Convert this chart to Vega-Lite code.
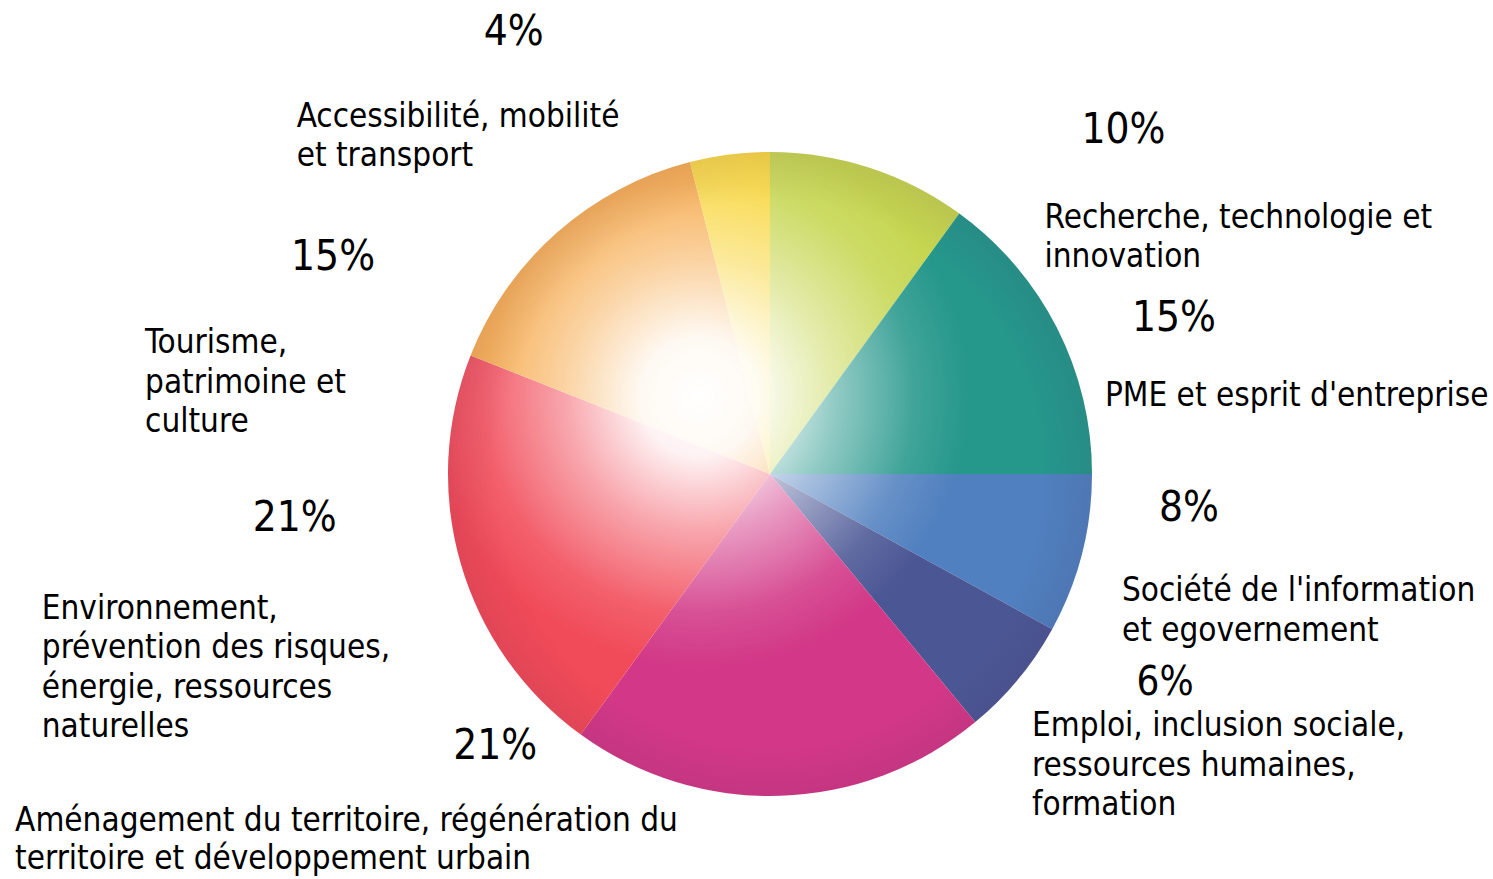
{
  "$schema": "https://vega.github.io/schema/vega-lite/v6.json",
  "width": 1446,
  "height": 810,
  "autosize": {"type": "none"},
  "padding": {"left": 47, "top": 69, "right": 0, "bottom": 0},
  "background": "white",
  "config": {"view": {"stroke": null}},
  "data": {
    "values": [
      {"cat": "Recherche, technologie et innovation", "label": "Recherche, technologie et\ninnovation", "pct": "10%", "value": 10, "order": 1},
      {"cat": "PME et esprit d'entreprise", "label": "PME et esprit d'entreprise", "pct": "15%", "value": 15, "order": 2},
      {"cat": "Société de l'information et egovernement", "label": "Société de l'information\net egovernement", "pct": "8%", "value": 8, "order": 3},
      {"cat": "Emploi, inclusion sociale, ressources humaines, formation", "label": "Emploi, inclusion sociale,\nressources humaines,\nformation", "pct": "6%", "value": 6, "order": 4},
      {"cat": "Aménagement du territoire, régénération du territoire et développement urbain", "label": "Aménagement du territoire, régénération du\nterritoire et développement urbain", "pct": "21%", "value": 21, "order": 5},
      {"cat": "Environnement, prévention des risques, énergie, ressources naturelles", "label": "Environnement,\nprévention des risques,\nénergie, ressources\nnaturelles", "pct": "21%", "value": 21, "order": 6},
      {"cat": "Tourisme, patrimoine et culture", "label": "Tourisme,\npatrimoine et\nculture", "pct": "15%", "value": 15, "order": 7},
      {"cat": "Accessibilité, mobilité et transport", "label": "Accessibilité, mobilité\net transport", "pct": "4%", "value": 4, "order": 8}
    ]
  },
  "layer": [
    {
      "mark": {"type": "arc", "outerRadius": 322, "strokeWidth": 0},
      "encoding": {
        "theta": {"field": "value", "type": "quantitative", "stack": true, "scale": {"domain": [0, 100]}},
        "order": {"field": "order", "type": "quantitative"},
        "color": {
          "field": "cat", "type": "nominal", "legend": null,
          "scale": {
            "domain": ["Recherche, technologie et innovation", "PME et esprit d'entreprise", "Société de l'information et egovernement", "Emploi, inclusion sociale, ressources humaines, formation", "Aménagement du territoire, régénération du territoire et développement urbain", "Environnement, prévention des risques, énergie, ressources naturelles", "Tourisme, patrimoine et culture", "Accessibilité, mobilité et transport"],
            "range": ["#c6d650", "#25978b", "#5080bf", "#4b5795", "#d23887", "#f14a58", "#f6a746", "#f8d63e"]
          }
        }
      }
    },
    {
      "transform": [{"aggregate": [{"op": "sum", "field": "value", "as": "total"}]}],
      "mark": {
        "type": "arc", "outerRadius": 322, "strokeWidth": 0,
        "fill": {
          "gradient": "radial", "x1": 0.39, "y1": 0.38, "r1": 0, "x2": 0.39, "y2": 0.38, "r2": 0.42,
          "stops": [
            {"offset": 0, "color": "rgba(255,255,255,1)"},
            {"offset": 0.22, "color": "rgba(255,255,255,0.93)"},
            {"offset": 0.5, "color": "rgba(255,255,255,0.5)"},
            {"offset": 0.8, "color": "rgba(255,255,255,0.12)"},
            {"offset": 1, "color": "rgba(255,255,255,0)"}
          ]
        }
      },
      "encoding": {"theta": {"field": "total", "type": "quantitative"}}
    },
    {
      "transform": [{"aggregate": [{"op": "sum", "field": "value", "as": "total"}]}],
      "mark": {
        "type": "arc", "outerRadius": 322, "strokeWidth": 0,
        "fill": {
          "gradient": "radial", "x1": 0.5, "y1": 0.5, "r1": 0, "x2": 0.5, "y2": 0.5, "r2": 0.5,
          "stops": [
            {"offset": 0, "color": "rgba(60,30,70,0)"},
            {"offset": 0.85, "color": "rgba(60,30,70,0)"},
            {"offset": 1, "color": "rgba(60,30,70,0.09)"}
          ]
        }
      },
      "encoding": {"theta": {"field": "total", "type": "quantitative"}}
    },
    {
      "mark": {"type": "text", "radius": 322, "align": "center", "baseline": "alphabetic", "font": "DejaVu Sans Condensed, Liberation Sans, sans-serif", "fontSize": 42, "color": "black", "dx": 254, "dy": -25},
      "encoding": {"theta": {"field": "value", "type": "quantitative", "stack": true}, "order": {"field": "order", "type": "quantitative"}, "text": {"condition": {"test": "datum.order === 1", "field": "pct", "type": "nominal"}, "value": ""}}
    },
    {
      "mark": {"type": "text", "radius": 322, "align": "center", "baseline": "alphabetic", "font": "DejaVu Sans Condensed, Liberation Sans, sans-serif", "fontSize": 42, "color": "black", "dx": 117, "dy": 3},
      "encoding": {"theta": {"field": "value", "type": "quantitative", "stack": true}, "order": {"field": "order", "type": "quantitative"}, "text": {"condition": {"test": "datum.order === 2", "field": "pct", "type": "nominal"}, "value": ""}}
    },
    {
      "mark": {"type": "text", "radius": 322, "align": "center", "baseline": "alphabetic", "font": "DejaVu Sans Condensed, Liberation Sans, sans-serif", "fontSize": 42, "color": "black", "dx": 107, "dy": -33},
      "encoding": {"theta": {"field": "value", "type": "quantitative", "stack": true}, "order": {"field": "order", "type": "quantitative"}, "text": {"condition": {"test": "datum.order === 3", "field": "pct", "type": "nominal"}, "value": ""}}
    },
    {
      "mark": {"type": "text", "radius": 322, "align": "center", "baseline": "alphabetic", "font": "DejaVu Sans Condensed, Liberation Sans, sans-serif", "fontSize": 40, "color": "black", "dx": 147, "dy": 16},
      "encoding": {"theta": {"field": "value", "type": "quantitative", "stack": true}, "order": {"field": "order", "type": "quantitative"}, "text": {"condition": {"test": "datum.order === 4", "field": "pct", "type": "nominal"}, "value": ""}}
    },
    {
      "mark": {"type": "text", "radius": 322, "align": "center", "baseline": "alphabetic", "font": "DejaVu Sans Condensed, Liberation Sans, sans-serif", "fontSize": 42, "color": "black", "dx": -285, "dy": -37},
      "encoding": {"theta": {"field": "value", "type": "quantitative", "stack": true}, "order": {"field": "order", "type": "quantitative"}, "text": {"condition": {"test": "datum.order === 5", "field": "pct", "type": "nominal"}, "value": ""}}
    },
    {
      "mark": {"type": "text", "radius": 322, "align": "center", "baseline": "alphabetic", "font": "DejaVu Sans Condensed, Liberation Sans, sans-serif", "fontSize": 42, "color": "black", "dx": -166, "dy": -33},
      "encoding": {"theta": {"field": "value", "type": "quantitative", "stack": true}, "order": {"field": "order", "type": "quantitative"}, "text": {"condition": {"test": "datum.order === 6", "field": "pct", "type": "nominal"}, "value": ""}}
    },
    {
      "mark": {"type": "text", "radius": 322, "align": "center", "baseline": "alphabetic", "font": "DejaVu Sans Condensed, Liberation Sans, sans-serif", "fontSize": 42, "color": "black", "dx": -224, "dy": 38},
      "encoding": {"theta": {"field": "value", "type": "quantitative", "stack": true}, "order": {"field": "order", "type": "quantitative"}, "text": {"condition": {"test": "datum.order === 7", "field": "pct", "type": "nominal"}, "value": ""}}
    },
    {
      "mark": {"type": "text", "radius": 322, "align": "center", "baseline": "alphabetic", "font": "DejaVu Sans Condensed, Liberation Sans, sans-serif", "fontSize": 42, "color": "black", "dx": -216, "dy": -110},
      "encoding": {"theta": {"field": "value", "type": "quantitative", "stack": true}, "order": {"field": "order", "type": "quantitative"}, "text": {"condition": {"test": "datum.order === 8", "field": "pct", "type": "nominal"}, "value": ""}}
    },
    {
      "mark": {"type": "text", "radius": 322, "align": "left", "baseline": "alphabetic", "lineBreak": "\n", "lineHeight": 39.5, "font": "DejaVu Sans Condensed, Liberation Sans, sans-serif", "fontSize": 33, "color": "black", "dx": 175, "dy": 60},
      "encoding": {"theta": {"field": "value", "type": "quantitative", "stack": true}, "order": {"field": "order", "type": "quantitative"}, "text": {"condition": {"test": "datum.order === 1", "field": "label", "type": "nominal"}, "value": ""}}
    },
    {
      "mark": {"type": "text", "radius": 322, "align": "left", "baseline": "alphabetic", "lineBreak": "\n", "lineHeight": 39.5, "font": "DejaVu Sans Condensed, Liberation Sans, sans-serif", "fontSize": 33, "color": "black", "dx": 48, "dy": 78},
      "encoding": {"theta": {"field": "value", "type": "quantitative", "stack": true}, "order": {"field": "order", "type": "quantitative"}, "text": {"condition": {"test": "datum.order === 2", "field": "label", "type": "nominal"}, "value": ""}}
    },
    {
      "mark": {"type": "text", "radius": 322, "align": "left", "baseline": "alphabetic", "lineBreak": "\n", "lineHeight": 39.5, "font": "DejaVu Sans Condensed, Liberation Sans, sans-serif", "fontSize": 33, "color": "black", "dx": 40, "dy": 47},
      "encoding": {"theta": {"field": "value", "type": "quantitative", "stack": true}, "order": {"field": "order", "type": "quantitative"}, "text": {"condition": {"test": "datum.order === 3", "field": "label", "type": "nominal"}, "value": ""}}
    },
    {
      "mark": {"type": "text", "radius": 322, "align": "left", "baseline": "alphabetic", "lineBreak": "\n", "lineHeight": 39.5, "font": "DejaVu Sans Condensed, Liberation Sans, sans-serif", "fontSize": 33, "color": "black", "dx": 14, "dy": 57},
      "encoding": {"theta": {"field": "value", "type": "quantitative", "stack": true}, "order": {"field": "order", "type": "quantitative"}, "text": {"condition": {"test": "datum.order === 4", "field": "label", "type": "nominal"}, "value": ""}}
    },
    {
      "mark": {"type": "text", "radius": 322, "align": "left", "baseline": "alphabetic", "lineBreak": "\n", "lineHeight": 38.5, "font": "DejaVu Sans Condensed, Liberation Sans, sans-serif", "fontSize": 33, "color": "black", "dx": -765, "dy": 35},
      "encoding": {"theta": {"field": "value", "type": "quantitative", "stack": true}, "order": {"field": "order", "type": "quantitative"}, "text": {"condition": {"test": "datum.order === 5", "field": "label", "type": "nominal"}, "value": ""}}
    },
    {
      "mark": {"type": "text", "radius": 322, "align": "left", "baseline": "alphabetic", "lineBreak": "\n", "lineHeight": 39.5, "font": "DejaVu Sans Condensed, Liberation Sans, sans-serif", "fontSize": 33, "color": "black", "dx": -419, "dy": 55},
      "encoding": {"theta": {"field": "value", "type": "quantitative", "stack": true}, "order": {"field": "order", "type": "quantitative"}, "text": {"condition": {"test": "datum.order === 6", "field": "label", "type": "nominal"}, "value": ""}}
    },
    {
      "mark": {"type": "text", "radius": 322, "align": "left", "baseline": "alphabetic", "lineBreak": "\n", "lineHeight": 39.5, "font": "DejaVu Sans Condensed, Liberation Sans, sans-serif", "fontSize": 33, "color": "black", "dx": -412, "dy": 121},
      "encoding": {"theta": {"field": "value", "type": "quantitative", "stack": true}, "order": {"field": "order", "type": "quantitative"}, "text": {"condition": {"test": "datum.order === 7", "field": "label", "type": "nominal"}, "value": ""}}
    },
    {
      "mark": {"type": "text", "radius": 322, "align": "left", "baseline": "alphabetic", "lineBreak": "\n", "lineHeight": 39.5, "font": "DejaVu Sans Condensed, Liberation Sans, sans-serif", "fontSize": 33, "color": "black", "dx": -433, "dy": -28},
      "encoding": {"theta": {"field": "value", "type": "quantitative", "stack": true}, "order": {"field": "order", "type": "quantitative"}, "text": {"condition": {"test": "datum.order === 8", "field": "label", "type": "nominal"}, "value": ""}}
    }
  ]
}
